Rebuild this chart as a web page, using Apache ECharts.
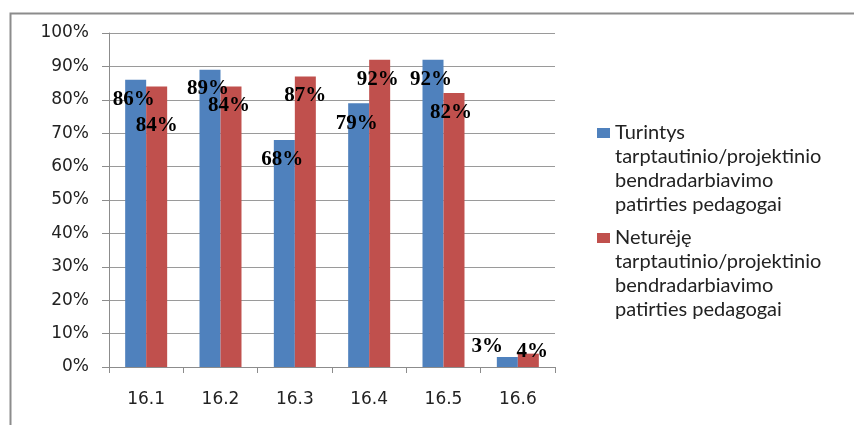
<!DOCTYPE html>
<html>
<head>
<meta charset="utf-8">
<script src="https://cdn.jsdelivr.net/npm/echarts@6/dist/echarts.min.js"></script>
<style>
  html, body { margin: 0; padding: 0; background: #fff; }
  #chart { width: 854px; height: 425px; }
</style>
</head>
<body>
<div id="chart"></div>
<script>
// Survey items and the share of teachers agreeing (%)
const categories = ['16.1', '16.2', '16.3', '16.4', '16.5', '16.6'];
const seriesNames = [
  'Turintys\ntarptautinio/projektinio\nbendradarbiavimo\npatirties pedagogai',
  'Neturėję\ntarptautinio/projektinio\nbendradarbiavimo\npatirties pedagogai'
];
const withExperience = [86, 89, 68, 79, 92, 3];
const withoutExperience = [84, 84, 87, 92, 82, 4];
const yTicks = { min: 0, max: 100, interval: 10 };

// Hand-placed value labels (pixel nudges relative to the bar top)
const labelNudgeA = [[-2, 4], [-2, 3], [-2, 4], [-2, 5], [-2, 4], [-20, -26]];
const labelNudgeB = [[0, 24], [-2, 4], [0, 4], [-2, 4], [-3, 4], [4, -18]];

const blue = '#4F81BD';
const red = '#C0504D';

function withLabels(values, nudges) {
  return values.map((v, i) => ({
    value: v,
    label: { offset: nudges[i] }
  }));
}

const valueLabel = {
  show: true,
  position: 'insideTop',
  distance: 5,
  formatter: '{c}%',
  color: '#000',
  fontFamily: '"Liberation Serif", "Times New Roman", serif',
  fontWeight: 'bold',
  fontSize: 21
};

const legendText = {
  fontFamily: 'Lato, "Open Sans", sans-serif',
  fontSize: 20,
  color: '#222',
  lineHeight: 24
};

// Blank lines above the name keep the swatch level with the first text line
const legendFormatter = name => '\n\n\n' + name;

const legendBase = {
  orient: 'vertical',
  left: 592,
  icon: 'rect', itemWidth: 13, itemHeight: 10, itemGap: 10,
  formatter: legendFormatter,
  textStyle: legendText
};

const chart = echarts.init(document.getElementById('chart'), null, { renderer: 'canvas' });
chart.setOption({
  animation: false,
  backgroundColor: '#fff',
  graphic: [{
    type: 'rect',
    left: 8, top: 11,
    shape: { width: 900, height: 500 },
    style: { fill: 'none', stroke: '#8c8c8c', lineWidth: 2 },
    silent: true
  }],
  grid: { left: 109, right: 299, top: 33, bottom: 58 },
  legend: [
    Object.assign({}, legendBase, { data: [seriesNames[0]], top: 44 }),
    Object.assign({}, legendBase, { data: [seriesNames[1]], top: 149 })
  ],
  xAxis: {
    type: 'category',
    data: categories,
    axisLine: { lineStyle: { color: '#8c8c8c', width: 1 } },
    axisTick: { show: true, length: 6, lineStyle: { color: '#8c8c8c' } },
    axisLabel: {
      margin: 24,
      fontFamily: '"DejaVu Sans", Verdana, sans-serif',
      fontSize: 17,
      color: '#222'
    }
  },
  yAxis: {
    type: 'value',
    min: yTicks.min, max: yTicks.max, interval: yTicks.interval,
    axisLine: { show: true, lineStyle: { color: '#8c8c8c', width: 1 } },
    axisTick: { show: true, length: 7, lineStyle: { color: '#8c8c8c' } },
    splitLine: { lineStyle: { color: '#9a9a9a', width: 1 } },
    axisLabel: {
      margin: 20,
      formatter: '{value}%',
      fontFamily: '"DejaVu Sans", Verdana, sans-serif',
      fontSize: 17,
      color: '#222'
    }
  },
  series: [
    {
      name: seriesNames[0],
      type: 'bar',
      data: withLabels(withExperience, labelNudgeA),
      itemStyle: { color: blue },
      barGap: '0%',
      barCategoryGap: '43.5%',
      label: valueLabel
    },
    {
      name: seriesNames[1],
      type: 'bar',
      data: withLabels(withoutExperience, labelNudgeB),
      itemStyle: { color: red },
      barGap: '0%',
      barCategoryGap: '43.5%',
      label: valueLabel
    }
  ]
});
</script>
</body>
</html>
